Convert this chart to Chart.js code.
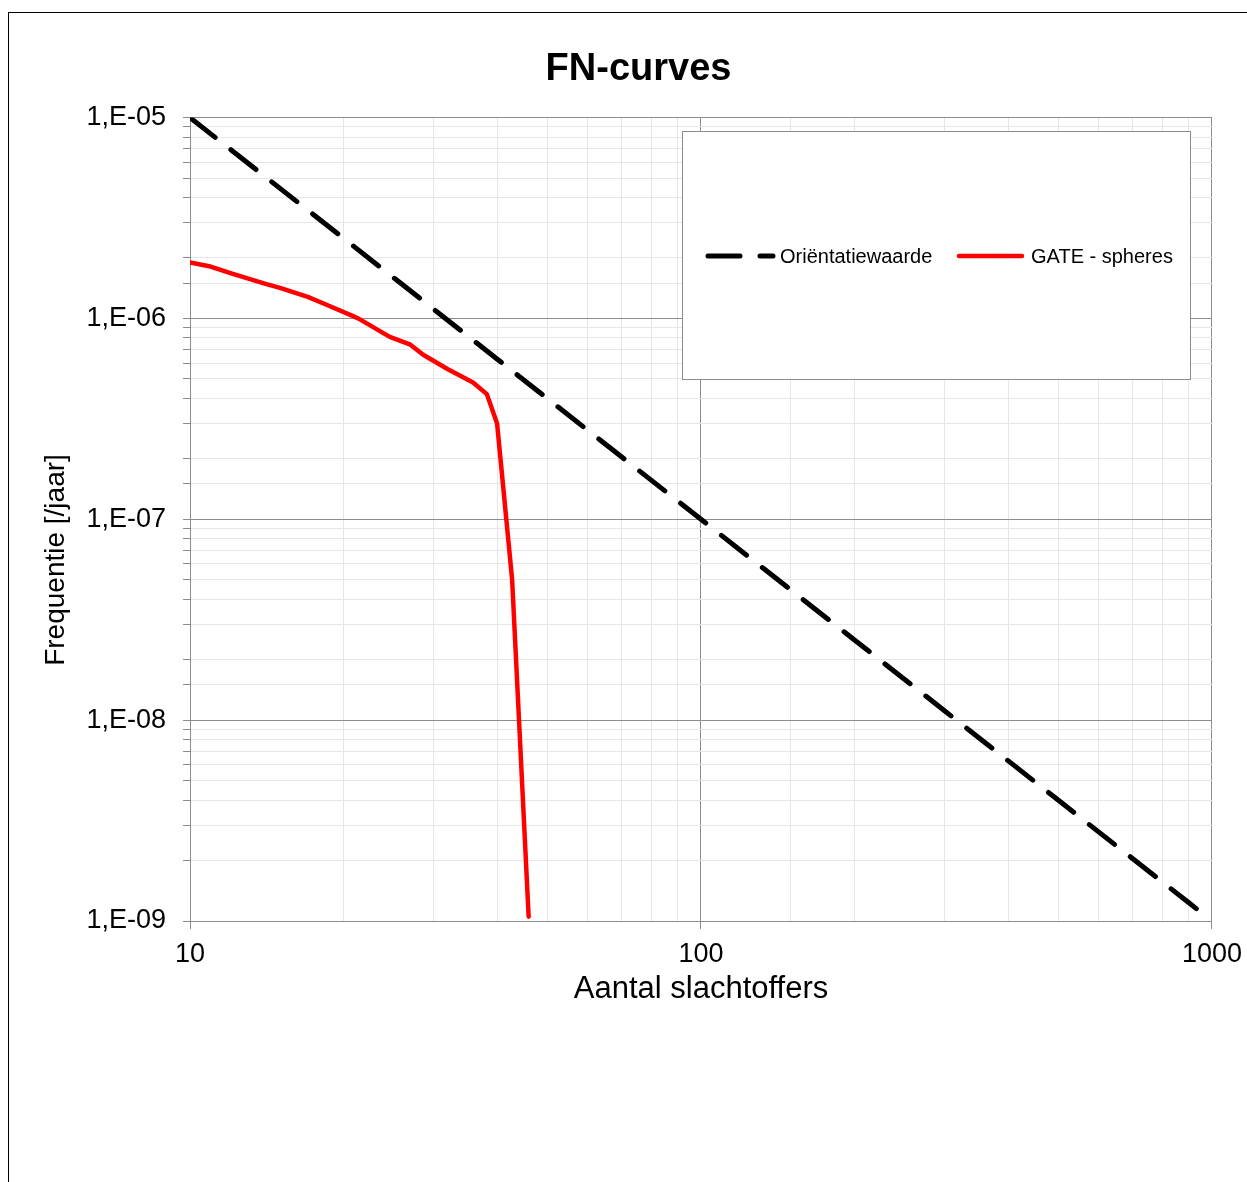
<!DOCTYPE html>
<html>
<head>
    <title>FN-curves</title>
    <script src="https://cdn.jsdelivr.net/npm/chart.js"></script>
    <style>
        body { margin: 0; background: #fff; overflow: hidden; }
        #frame { position: absolute; left: 8px; top: 12px; width: 1300px; height: 1300px; border: 1px solid #000; }
        #myChart { position: absolute; left: 0; top: 0; }
    </style>
</head>
<body>
    <div id="frame"></div>
    <canvas id="myChart" width="1251" height="1182" style="width:1251px;height:1182px"></canvas>
    <script>
        // tick labels (only the decades carry a label)
        const xTickValues = [10, 100, 1000];
        const xTickLabels = ['10', '100', '1000'];
        const yTickValues = [1e-9, 1e-8, 1e-7, 1e-6, 1e-5];
        const yTickLabels = ['1,E-09', '1,E-08', '1,E-07', '1,E-06', '1,E-05'];

        const seriesNames = ['Oriëntatiewaarde', 'GATE - spheres'];

        // Oriëntatiewaarde (N, frequentie)
        const orientN = [10, 20, 30, 40, 50, 60, 70, 80, 90, 100, 150, 200, 300, 400, 500, 600, 700, 800, 900, 1000];
        const orientF = [1e-5, 2.5e-6, 1.111e-6, 6.25e-7, 4e-7, 2.778e-7, 2.041e-7, 1.5625e-7, 1.235e-7, 1e-7,
                         4.444e-8, 2.5e-8, 1.111e-8, 6.25e-9, 4e-9, 2.778e-9, 2.041e-9, 1.5625e-9, 1.235e-9, 1e-9];

        // GATE - spheres
        const gateN = [10, 10.9, 12, 14, 15, 17, 18.5, 20.8, 21.5, 24.6, 27, 28.6, 31.9, 35.8, 38.1, 39.9, 42.7, 46];
        const gateF = [1.9e-6, 1.82e-6, 1.68e-6, 1.49e-6, 1.42e-6, 1.28e-6, 1.17e-6, 1.03e-6, 9.9e-7, 8.1e-7,
                       7.4e-7, 6.6e-7, 5.6e-7, 4.8e-7, 4.2e-7, 3.0e-7, 5.0e-8, 1.05e-9];

        const FONT = '"Liberation Sans", Arial, sans-serif';
        Chart.defaults.font.family = FONT;
        Chart.defaults.color = '#000';

        function labelFor(values, labels, v) {
            for (let i = 0; i < values.length; i++) {
                if (Math.abs(v / values[i] - 1) < 1e-6) return labels[i];
            }
            return '';
        }
        function isDecade(v) {
            const e = Math.round(Math.log10(v));
            return Math.abs(v / Math.pow(10, e) - 1) < 1e-6;
        }

        // boxed legend inside the plot, like the Excel one
        const legendBox = {
            id: 'legendBox',
            afterDraw(chart) {
                const ctx = chart.ctx;
                const ds = chart.data.datasets;
                ctx.save();
                ctx.fillStyle = '#fff';
                ctx.fillRect(682, 131, 508, 248);
                ctx.strokeStyle = '#8c8c8c';
                ctx.lineWidth = 1;
                ctx.strokeRect(682.5, 131.5, 508, 248);

                ctx.lineCap = 'round';
                ctx.strokeStyle = ds[0].borderColor;
                ctx.lineWidth = ds[0].borderWidth;
                ctx.setLineDash(ds[0].borderDash);
                ctx.beginPath();
                ctx.moveTo(708, 256);
                ctx.lineTo(773, 256);
                ctx.stroke();

                ctx.setLineDash([]);
                ctx.strokeStyle = ds[1].borderColor;
                ctx.lineWidth = ds[1].borderWidth;
                ctx.beginPath();
                ctx.moveTo(959, 256);
                ctx.lineTo(1022, 256);
                ctx.stroke();

                ctx.fillStyle = '#000';
                ctx.font = '20px ' + FONT;
                ctx.textBaseline = 'middle';
                ctx.textAlign = 'left';
                ctx.fillText(ds[0].label, 780, 257);
                ctx.fillText(ds[1].label, 1031, 257);
                ctx.restore();
            }
        };

        // y axis title sits a bit lower than the axis centre in the original
        const yTitle = {
            id: 'yTitle',
            afterDraw(chart) {
                const ctx = chart.ctx;
                ctx.save();
                ctx.translate(56, 560);
                ctx.rotate(-Math.PI / 2);
                ctx.font = '28px ' + FONT;
                ctx.fillStyle = '#000';
                ctx.textAlign = 'center';
                ctx.textBaseline = 'middle';
                ctx.fillText('Frequentie [/jaar]', 0, 0);
                ctx.restore();
            }
        };

        const ctx = document.getElementById('myChart').getContext('2d');
        const myChart = new Chart(ctx, {
            type: 'line',
            data: {
                datasets: [{
                    label: seriesNames[0],
                    data: orientN.map((n, i) => ({ x: n, y: orientF[i] })),
                    borderColor: '#000000',
                    borderWidth: 5,
                    borderDash: [32, 20],
                    borderCapStyle: 'round',
                    pointRadius: 0,
                    tension: 0,
                    fill: false
                }, {
                    label: seriesNames[1],
                    data: gateN.map((n, i) => ({ x: n, y: gateF[i] })),
                    borderColor: '#ff0000',
                    borderWidth: 4.5,
                    borderCapStyle: 'round',
                    borderJoinStyle: 'round',
                    pointRadius: 0,
                    tension: 0,
                    fill: false
                }]
            },
            options: {
                responsive: false,
                animation: false,
                layout: { padding: { left: 62, right: 36, top: 0, bottom: 174 } },
                plugins: {
                    legend: { display: false },
                    tooltip: { enabled: false },
                    title: {
                        display: true,
                        text: 'FN-curves',
                        color: '#000',
                        font: { size: 38, weight: 'bold' },
                        padding: { top: 47, bottom: 25 }
                    }
                },
                scales: {
                    x: {
                        type: 'logarithmic',
                        min: 10,
                        max: 1000,
                        afterFit: s => { s.height = 87; },
                        ticks: {
                            autoSkip: false,
                            minRotation: 0,
                            maxRotation: 0,
                            padding: 9,
                            color: '#000',
                            font: { size: 27 },
                            callback: v => labelFor(xTickValues, xTickLabels, v)
                        },
                        grid: {
                            color: c => isDecade(c.tick.value) ? '#8c8c8c' : '#e6e6e6',
                            tickColor: c => isDecade(c.tick.value) ? '#8c8c8c' : 'rgba(0,0,0,0)',
                            tickLength: 8
                        },
                        border: { color: '#8c8c8c', width: 1 },
                        title: {
                            display: true,
                            text: 'Aantal slachtoffers',
                            color: '#000',
                            font: { size: 31 },
                            padding: { top: 0, bottom: 0 }
                        }
                    },
                    y: {
                        type: 'logarithmic',
                        min: 1e-9,
                        max: 1e-5,
                        afterFit: s => { s.width = 128; },
                        ticks: {
                            autoSkip: false,
                            padding: 17,
                            color: '#000',
                            font: { size: 27 },
                            callback: v => labelFor(yTickValues, yTickLabels, v)
                        },
                        grid: {
                            color: c => isDecade(c.tick.value) ? '#8c8c8c' : '#e6e6e6',
                            tickColor: '#8c8c8c',
                            tickLength: 7
                        },
                        border: { color: '#8c8c8c', width: 1 }
                    }
                }
            },
            plugins: [legendBox, yTitle]
        });
    </script>
</body>
</html>
